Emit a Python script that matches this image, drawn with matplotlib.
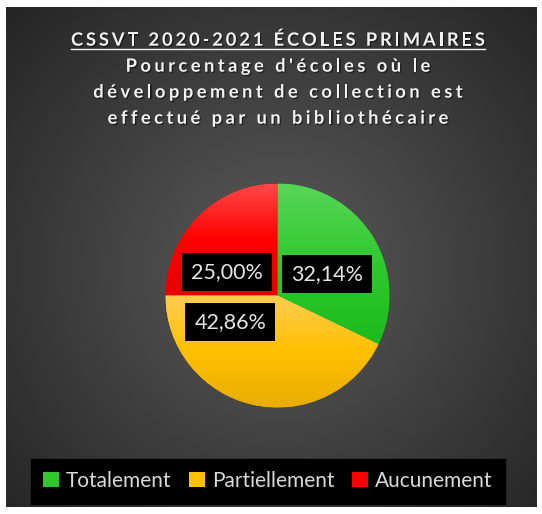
import numpy as np
import matplotlib.pyplot as plt
import matplotlib.patheffects as pe
from matplotlib.colors import LinearSegmentedColormap
from matplotlib.font_manager import FontProperties
from matplotlib.lines import Line2D

# data
categories = ["Totalement", "Partiellement", "Aucunement"]
values = [32.14, 42.86, 25.00]
value_labels = ["32,14%", "42,86%", "25,00%"]

title_line1 = "CSSVT 2020-2021 ÉCOLES PRIMAIRES"
title_rest = ["Pourcentage d'écoles où le",
              "développement de collection est",
              "effectué par un bibliothécaire"]

# slice gradients: top, middle, bottom
grads = [("#58d658", "#2fc92f", "#1cbb1c"),
         ("#ffcc52", "#ffc000", "#e8ad00"),
         ("#ff4a4a", "#ff0000", "#e60000")]

# label box centres, in pie radius units
label_pos = [(0.44, 0.19), (-0.42, -0.24), (-0.45, 0.21)]

W, H = 542, 514
fig = plt.figure(figsize=(W / 100, H / 100), dpi=100, facecolor="white")
rend = fig.canvas.get_renderer()
shadow = [pe.withSimplePatchShadow(offset=(1, -1), shadow_rgbFace="black", alpha=0.45)]


def spaced_text(xc, base_y, s, sp, fp, color):
    # text with extra letter spacing (px), centred on xc, baseline at base_y (px from top)
    def tw(t):
        return rend.get_text_width_height_descent(t, fp, ismath=False)[0]
    space_w = tw("x x") - tw("xx")
    widths = [space_w if ch == " " else tw(ch) for ch in s]
    total = sum(widths) + sp * (len(s) - 1)
    x = xc - total / 2
    x0 = x
    for ch, w in zip(s, widths):
        if ch != " ":
            fig.text(x / W, 1 - base_y / H, ch, ha="left", va="baseline",
                     fontproperties=fp, color=color, path_effects=shadow)
        x += w + sp
    return x0, x - sp


# radial gradient background
bg = fig.add_axes([6 / W, 7 / H, 531 / W, 500 / H])
bg.axis("off")
yy, xx = np.mgrid[0:500, 0:531]
d = np.clip(np.hypot(xx - 271, yy - 260) / 380, 0, 1)
c_in = np.array([0x5b, 0x5b, 0x5b]) / 255
c_out = np.array([0x24, 0x24, 0x24]) / 255
bg.imshow(c_in + (c_out - c_in) * d[..., None], aspect="auto")

# pie
cx, cy, r = 277.5, 295.5, 112
ax = fig.add_axes([(cx - r) / W, (H - cy - r) / H, 2 * r / W, 2 * r / H])
wedges, _ = ax.pie(values, startangle=90, counterclock=False,
                   colors=[g[1] for g in grads], radius=1,
                   wedgeprops=dict(linewidth=0))

for w, g in zip(wedges, grads):
    ext = w.get_path().get_extents()
    cmap = LinearSegmentedColormap.from_list("g", [g[2], g[1], g[0]])
    im = ax.imshow(np.linspace(0, 1, 256).reshape(-1, 1), cmap=cmap,
                   origin="lower", aspect="auto",
                   extent=(ext.x0, ext.x1, ext.y0, ext.y1), zorder=2)
    im.set_clip_path(w)
ax.set_xlim(-1, 1)
ax.set_ylim(-1, 1)
ax.axis("off")

for (x, y), lab in zip(label_pos, value_labels):
    ax.text(x, y, lab, ha="center", va="center", fontsize=15.5,
            family="Lato", color="#e6e6e6", zorder=5,
            bbox=dict(boxstyle="square,pad=0.42", fc="black", ec="none"))

# titles
fp = FontProperties(family="Lato", weight="bold", size=13.2)
ux0, ux1 = spaced_text(278, 45.7, title_line1, 2.8, fp, "#f2f2f2")
fig.add_artist(Line2D([ux0 / W, ux1 / W], [1 - 48.7 / H, 1 - 48.7 / H],
                      transform=fig.transFigure, color="#f2f2f2", lw=1.0))
for i, line in enumerate(title_rest):
    spaced_text(278, 71.7 + 26 * i, line, 3.4, fp, "#f2f2f2")

# legend
leg = fig.legend(wedges, categories, loc="center",
                 bbox_to_anchor=(268 / W, 1 - 481 / H), ncol=3,
                 frameon=True, facecolor="black", edgecolor="black",
                 fancybox=False, framealpha=1, prop=dict(family="Lato", size=15),
                 labelcolor="#d9d9d9", handlelength=0.75, handleheight=0.75,
                 handletextpad=0.35, columnspacing=0.85, borderpad=0.6)

fig.savefig("out.png", dpi=100, facecolor="white")
